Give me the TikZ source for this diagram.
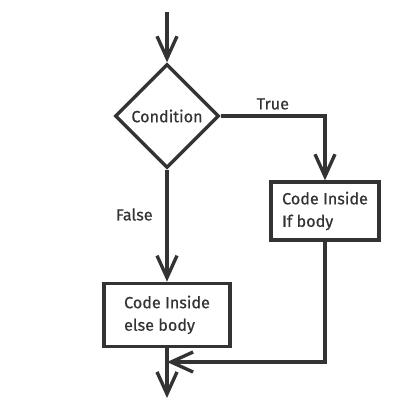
\documentclass[tikz,border=0pt]{standalone}
\usepackage{fontspec}
\setmainfont{Fira Sans}[FakeBold=0.6]
\usetikzlibrary{shapes.geometric}
\usetikzlibrary{arrows.meta}
\usetikzlibrary{positioning}
\definecolor{ink}{HTML}{333333}

\begin{document}
\begin{tikzpicture}[x=0.25mm, y=-0.25mm, color=ink, line width=2.4pt,
  font=\fontsize{11.5}{16}\selectfont,
  main/.style = {draw},
  cond/.style = {main, diamond, aspect=1, minimum width=26mm, minimum height=26mm, inner sep=0pt},
  body/.style = {main, rectangle, align=left, inner sep=0pt},
  arr/.style = {-{Straight Barb[length=5.5mm, width=5mm]}}]
\useasboundingbox (0,0) rectangle (400,400);
\coordinate (in) at (167,12);
\node[cond] (c) at (167,116) {Condition};
\node[body, minimum width=27mm, minimum height=14.5mm] (if) at (325,211) {Code Inside\\If body};
\node[body, minimum width=31.5mm, minimum height=15.75mm, below=28mm of c] (else) {Code Inside\\else body};
\coordinate (join) at (167,362);
\coordinate (out) at (167,398);
\draw[arr] (in) -- (c);
\draw[arr] (c.east) -| node[pos=0.25, above]{True} (if);
\draw[arr] (c) -- node[pos=0.4, left=2mm]{False} (else);
\draw[arr] (if) |- (join);
\draw[arr] (else) -- (out);
\end{tikzpicture}
\end{document}
